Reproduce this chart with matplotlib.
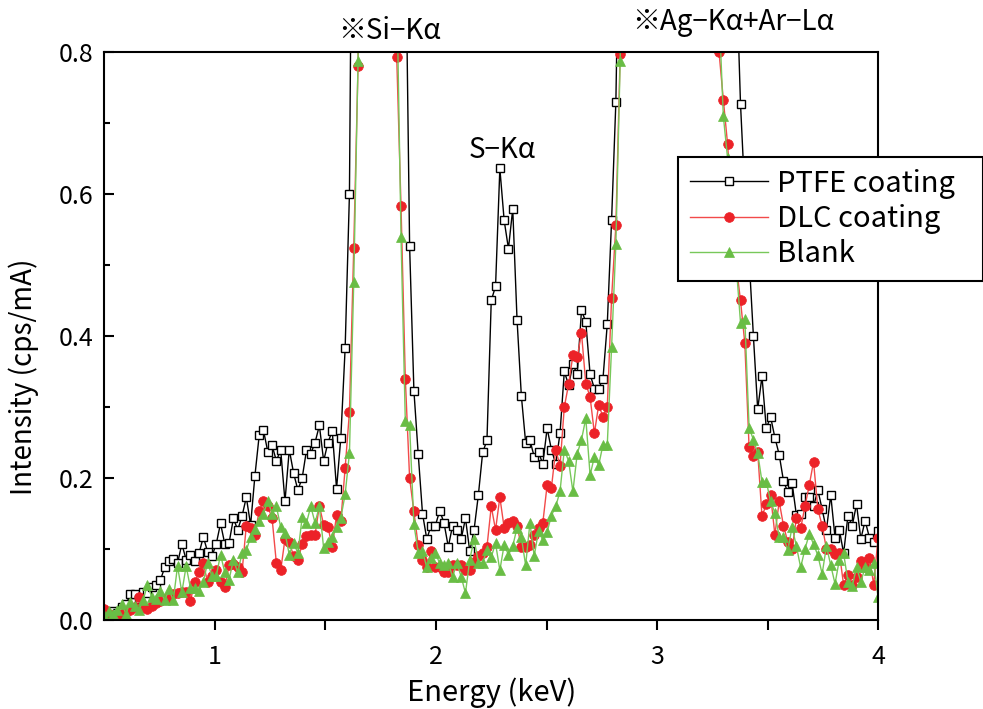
import numpy as np
import matplotlib
matplotlib.use("Agg")
import matplotlib.pyplot as plt

plt.rcParams['font.family'] = ['Noto Sans CJK JP', 'DejaVu Sans']

# energy channels (keV), 181 channels from 0.5 to 4.0
energy = np.linspace(0.5, 4.0, 181)

ptfe = [
    0.005, 0.008, 0.012, 0.010, 0.018, 0.022, 0.036, 0.036, 0.030, 0.040,
    0.038, 0.047, 0.050, 0.056, 0.074, 0.083, 0.086, 0.080, 0.107, 0.085,
    0.091, 0.083, 0.094, 0.117, 0.096, 0.090, 0.107, 0.136, 0.107, 0.109,
    0.143, 0.127, 0.146, 0.173, 0.134, 0.203, 0.260, 0.267, 0.237, 0.246,
    0.224, 0.240, 0.167, 0.240, 0.207, 0.183, 0.200, 0.239, 0.234, 0.250,
    0.274, 0.224, 0.250, 0.266, 0.185, 0.257, 0.383, 0.600, 1.40, 2.5,
    3.5, 4.5, 5.0, 5.2, 5.0, 4.5, 3.8, 3.0, 2.2, 1.5,
    1.0, 0.527, 0.323, 0.234, 0.150, 0.114, 0.133, 0.133, 0.154, 0.137,
    0.103, 0.133, 0.127, 0.114, 0.143, 0.097, 0.127, 0.176, 0.236, 0.253,
    0.450, 0.470, 0.636, 0.563, 0.523, 0.579, 0.423, 0.316, 0.250, 0.253,
    0.230, 0.236, 0.220, 0.270, 0.240, 0.220, 0.263, 0.350, 0.331, 0.360,
    0.346, 0.436, 0.420, 0.346, 0.326, 0.326, 0.340, 0.417, 0.563, 0.730,
    1.1, 1.6, 2.2, 2.9, 3.6, 4.3, 5.0, 5.6, 6.0, 6.3,
    6.5, 6.6, 6.5, 6.3, 6.0, 5.6, 5.1, 4.6, 4.0, 3.4,
    2.8, 2.3, 1.9, 1.6, 1.35, 1.15, 1.0, 0.92, 0.727, 0.60,
    0.51, 0.400, 0.297, 0.343, 0.270, 0.286, 0.257, 0.233, 0.196, 0.180,
    0.193, 0.148, 0.150, 0.173, 0.173, 0.160, 0.183, 0.156, 0.127, 0.176,
    0.116, 0.127, 0.094, 0.147, 0.133, 0.163, 0.114, 0.140, 0.116, 0.110, 0.125,
]

dlc = [
    0.016, 0.008, 0.004, 0.006, 0.009, 0.011, 0.014, 0.019, 0.033, 0.018,
    0.016, 0.020, 0.024, 0.027, 0.030, 0.030, 0.037, 0.038, 0.040, 0.040,
    0.027, 0.053, 0.067, 0.080, 0.053, 0.062, 0.070, 0.053, 0.047, 0.077,
    0.079, 0.075, 0.067, 0.133, 0.129, 0.120, 0.154, 0.167, 0.160, 0.143,
    0.080, 0.070, 0.114, 0.110, 0.090, 0.084, 0.107, 0.118, 0.120, 0.120,
    0.161, 0.134, 0.131, 0.103, 0.148, 0.140, 0.214, 0.293, 0.524, 0.780,
    1.5, 2.5, 3.2, 3.5, 3.4, 3.0, 2.2, 1.3, 0.793, 0.583,
    0.340, 0.200, 0.153, 0.105, 0.085, 0.075, 0.097, 0.074, 0.074, 0.068,
    0.067, 0.077, 0.077, 0.077, 0.070, 0.070, 0.082, 0.090, 0.095, 0.103,
    0.160, 0.127, 0.173, 0.130, 0.137, 0.140, 0.133, 0.103, 0.103, 0.106,
    0.120, 0.130, 0.137, 0.190, 0.186, 0.240, 0.217, 0.300, 0.332, 0.373,
    0.370, 0.404, 0.333, 0.314, 0.263, 0.303, 0.286, 0.300, 0.453, 0.556,
    0.797, 1.3, 1.9, 2.6, 3.3, 4.0, 4.6, 5.1, 5.5, 5.8,
    5.9, 6.0, 5.9, 5.7, 5.3, 4.8, 4.2, 3.6, 3.0, 2.3,
    1.7, 1.3, 1.0, 0.80, 0.733, 0.670, 0.58, 0.50, 0.45, 0.390,
    0.243, 0.231, 0.237, 0.146, 0.163, 0.176, 0.120, 0.167, 0.133, 0.110,
    0.100, 0.143, 0.129, 0.160, 0.190, 0.223, 0.156, 0.133, 0.100, 0.100,
    0.093, 0.095, 0.049, 0.063, 0.049, 0.060, 0.083, 0.075, 0.087, 0.050, 0.115,
]

blank = [
    0.007, 0.012, 0.009, 0.014, 0.023, 0.009, 0.026, 0.020, 0.014, 0.028,
    0.050, 0.032, 0.029, 0.041, 0.028, 0.043, 0.028, 0.076, 0.039, 0.076,
    0.045, 0.045, 0.041, 0.054, 0.081, 0.062, 0.062, 0.092, 0.067, 0.057,
    0.085, 0.067, 0.094, 0.098, 0.117, 0.128, 0.139, 0.150, 0.168, 0.150,
    0.160, 0.131, 0.123, 0.092, 0.109, 0.094, 0.145, 0.137, 0.160, 0.137,
    0.160, 0.101, 0.110, 0.117, 0.131, 0.144, 0.177, 0.235, 0.476, 0.787,
    1.5, 2.4, 3.1, 3.4, 3.3, 2.9, 2.1, 1.4, 0.90, 0.540,
    0.280, 0.274, 0.135, 0.095, 0.097, 0.074, 0.087, 0.094, 0.080, 0.077,
    0.080, 0.061, 0.080, 0.061, 0.038, 0.085, 0.114, 0.081, 0.081, 0.098,
    0.089, 0.108, 0.070, 0.106, 0.092, 0.104, 0.130, 0.117, 0.077, 0.137,
    0.090, 0.126, 0.112, 0.124, 0.147, 0.160, 0.181, 0.240, 0.224, 0.181,
    0.234, 0.254, 0.284, 0.204, 0.230, 0.218, 0.247, 0.247, 0.384, 0.530,
    0.787, 1.25, 1.85, 2.5, 3.2, 3.9, 4.5, 5.0, 5.4, 5.7,
    5.8, 5.9, 5.8, 5.6, 5.2, 4.7, 4.1, 3.5, 2.9, 2.2,
    1.65, 1.25, 0.95, 0.86, 0.710, 0.65, 0.58, 0.50, 0.419, 0.424,
    0.271, 0.254, 0.235, 0.195, 0.195, 0.167, 0.151, 0.117, 0.117, 0.098,
    0.131, 0.104, 0.074, 0.100, 0.121, 0.107, 0.091, 0.065, 0.104, 0.077,
    0.051, 0.085, 0.094, 0.054, 0.048, 0.074, 0.054, 0.074, 0.071, 0.081, 0.033,
]

series_labels = ["PTFE coating", "DLC coating", "Blank"]
x_ticks = [1, 2, 3, 4]
y_ticks = [0.0, 0.2, 0.4, 0.6, 0.8]
peak_labels = ["※Si−Kα", "S−Kα", "※Ag−Kα+Ar−Lα"]
peak_pos = [(1.79, 0.829), (2.30, 0.662), (3.345, 0.842)]

fig = plt.figure(figsize=(9.83, 7.09), dpi=100)
ax = fig.add_axes([0.1063, 0.1255, 0.7869, 0.8012])

ax.plot(energy, ptfe, color='black', lw=1.0, marker='s', ms=6,
        mfc='white', mec='black', mew=1.0, label=series_labels[0])
ax.plot(energy, dlc, color='#f24a4a', lw=1.0, marker='o', ms=7,
        mfc='#ec2228', mec='#ec2228', mew=0.5, label=series_labels[1])
ax.plot(energy, blank, color='#78c85a', lw=1.0, marker='^', ms=7.5,
        mfc='#69bd45', mec='#69bd45', mew=0.5, label=series_labels[2])

ax.set_xlim(0.5, 4.0)
ax.set_ylim(0.0, 0.8)
ax.set_xticks(x_ticks)
ax.set_xticklabels([str(t) for t in x_ticks])
ax.set_xticks([1.5, 2.5, 3.5], minor=True)
ax.set_yticks(y_ticks)
ax.set_yticklabels([f"{t:.1f}" for t in y_ticks])
ax.set_yticks([0.1, 0.3, 0.5, 0.7], minor=True)

ax.tick_params(axis='x', which='both', direction='out', length=7, width=1.5,
               labelsize=18, pad=10)
ax.tick_params(axis='y', which='major', direction='in', length=7, width=1.5,
               labelsize=18, pad=8)
ax.tick_params(axis='y', which='minor', direction='in', length=4, width=1.5)
for s in ax.spines.values():
    s.set_linewidth(1.5)

ax.set_xlabel("Energy (keV)", fontsize=21, labelpad=6)
ax.set_ylabel("Intensity (cps/mA)", fontsize=20)
ax.yaxis.set_label_coords(-0.085, 0.428)

for lab, (x, y) in zip(peak_labels, peak_pos):
    ax.text(x, y, lab, fontsize=20, ha='center', va='center', clip_on=False)

leg = fig.legend(loc='upper left', mode='expand',
                 bbox_to_anchor=(0.6897, 0.6, 0.31, 0.1786),
                 bbox_transform=fig.transFigure, fontsize=21,
                 frameon=True, fancybox=False, borderaxespad=0,
                 handlelength=2.7, handletextpad=0.3, labelspacing=0.18,
                 borderpad=0.4)
leg.get_frame().set_edgecolor('black')
leg.get_frame().set_linewidth(1.5)
leg.get_frame().set_alpha(1)

fig.savefig("out.png", dpi=100)
